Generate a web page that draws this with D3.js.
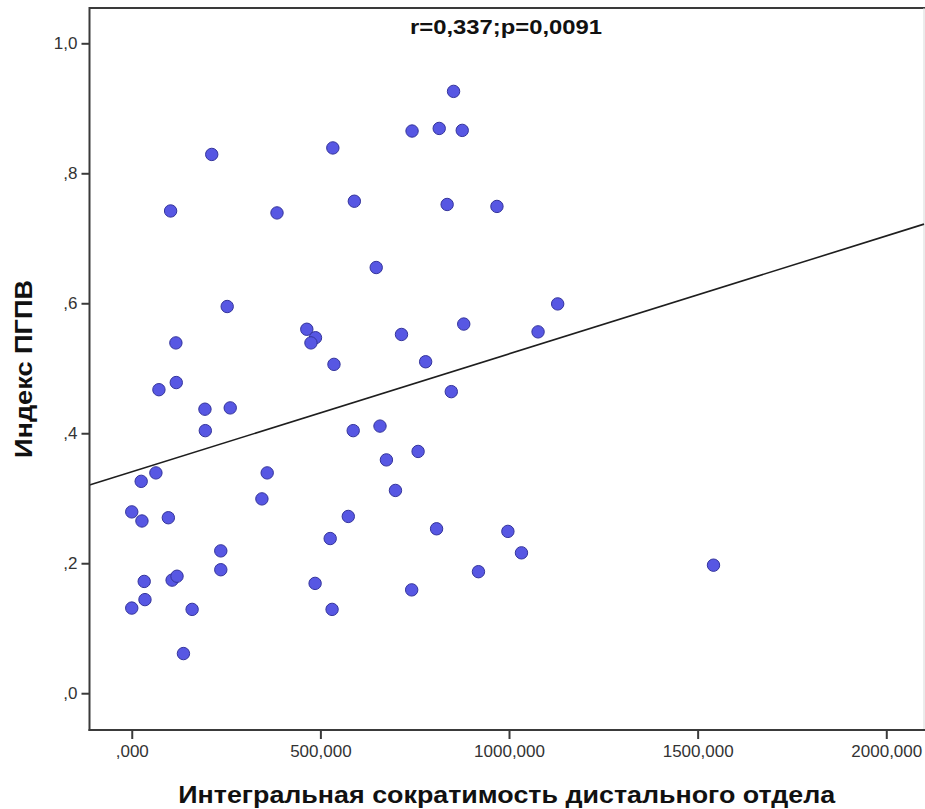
<!DOCTYPE html>
<html><head><meta charset="utf-8">
<script src="https://cdn.jsdelivr.net/npm/d3@7"></script>
<style>
body{margin:0;background:#fff;}
svg{display:block;}
</style></head>
<body>
<svg id="chart" width="925" height="809"></svg>
<script>
// Data
const xValues = [212,533,103,385,253,117,464,487,475,536,118,853,743,815,876,590,836,968,648,1129,880,1077,715,779,72,194,261,195,64,25,359,345,0,27,97,526,236,236,33,107,120,35,0,160,486,531,137,847,587,658,675,759,699,574,808,997,1033,919,742,1542];
const yValues = [0.829,0.839,0.742,0.739,0.595,0.539,0.560,0.547,0.539,0.506,0.478,0.926,0.865,0.869,0.866,0.757,0.752,0.749,0.655,0.599,0.568,0.556,0.552,0.510,0.467,0.437,0.439,0.404,0.339,0.326,0.339,0.299,0.279,0.265,0.270,0.238,0.219,0.190,0.172,0.174,0.180,0.144,0.131,0.129,0.169,0.129,0.061,0.464,0.404,0.411,0.359,0.372,0.312,0.272,0.253,0.249,0.216,0.187,0.159,0.197];
const xTickValues = [0,500,1000,1500,2000];
const xTickLabels = [",000","500,000","1000,000","1500,000","2000,000"];
const yTickValues = [0,0.2,0.4,0.6,0.8,1.0];
const yTickLabels = [",0",",2",",4",",6",",8","1,0"];
const fitIntercept = 0.3406;
const fitSlope = 0.0001815;
const xDomain = [-112, 2100];
const yDomain = [-0.0566, 1.0543];
const annotation = "r=0,337;p=0,0091";
const xTitle = "Интегральная сократимость дистального отдела";
const yTitle = "Индекс ПГПВ";

const svg = d3.select("#chart");
const L = 89.5, R = 924, T = 8, B = 730;
const x = d3.scaleLinear().domain(xDomain).range([L, R]);
const y = d3.scaleLinear().domain(yDomain).range([B, T]);

// frame
svg.append("line").attr("x1",L).attr("x2",R+1).attr("y1",T).attr("y2",T)
  .attr("stroke","#3a3a3a").attr("stroke-width",2);
svg.append("line").attr("x1",R).attr("x2",R).attr("y1",T).attr("y2",B)
  .attr("stroke","#d8d8d8").attr("stroke-width",1);

// regression line
const lx = xDomain;
svg.append("line")
  .attr("x1", x(lx[0])).attr("y1", y(fitIntercept + fitSlope*lx[0]))
  .attr("x2", x(lx[1])).attr("y2", y(fitIntercept + fitSlope*lx[1]))
  .attr("stroke","#1e1e1e").attr("stroke-width",1.6);

// points
const pts = xValues.map((v,i)=>({x:v,y:yValues[i]}));
svg.append("g").selectAll("circle").data(pts).enter().append("circle")
  .attr("cx",d=>x(d.x)).attr("cy",d=>y(d.y)).attr("r",6.2)
  .attr("fill","#5757e3").attr("stroke","#34349c").attr("stroke-width",1);

// axes
const xAxis = d3.axisBottom(x).tickValues(xTickValues)
  .tickFormat((d,i)=>xTickLabels[i]).tickSize(9).tickSizeOuter(0).tickPadding(6);
const gx = svg.append("g").attr("transform",`translate(0,${B})`).call(xAxis);
const yAxis = d3.axisLeft(y).tickValues(yTickValues)
  .tickFormat((d,i)=>yTickLabels[i]).tickSize(8).tickSizeOuter(0).tickPadding(4);
const gy = svg.append("g").attr("transform",`translate(${L},0)`).call(yAxis);

[gx,gy].forEach(g=>{
  g.select(".domain").attr("stroke","#3a3a3a").attr("stroke-width",2);
  g.selectAll(".tick line").attr("stroke","#3a3a3a").attr("stroke-width",2);
  g.selectAll(".tick text").attr("fill","#333").style("font-family","Arial, 'Liberation Sans', sans-serif").style("font-size","17px");
});
gx.select(".domain").attr("d",`M${L-1},0H${R+1}`);
gy.select(".domain").attr("d",`M0,${T-1}V${B+1}`);

// annotation
svg.append("text").attr("x",410).attr("y",33.5).text(annotation)
  .attr("textLength",192).attr("lengthAdjust","spacingAndGlyphs")
  .style("font-family","Arial, 'Liberation Sans', sans-serif").style("font-weight","bold")
  .style("font-size","21px").attr("fill","#111");

// axis titles
svg.append("text").attr("x",(L+R)/2).attr("y",803).attr("text-anchor","middle").text(xTitle)
  .attr("textLength",657).attr("lengthAdjust","spacingAndGlyphs")
  .style("font-family","Arial, 'Liberation Sans', sans-serif").style("font-weight","bold")
  .style("font-size","23px").attr("fill","#111");
svg.append("text").attr("transform",`translate(32,${(T+B)/2}) rotate(-90)`).attr("text-anchor","middle").text(yTitle)
  .attr("textLength",178).attr("lengthAdjust","spacingAndGlyphs")
  .style("font-family","Arial, 'Liberation Sans', sans-serif").style("font-weight","bold")
  .style("font-size","24px").attr("fill","#111");
</script>
</body></html>
